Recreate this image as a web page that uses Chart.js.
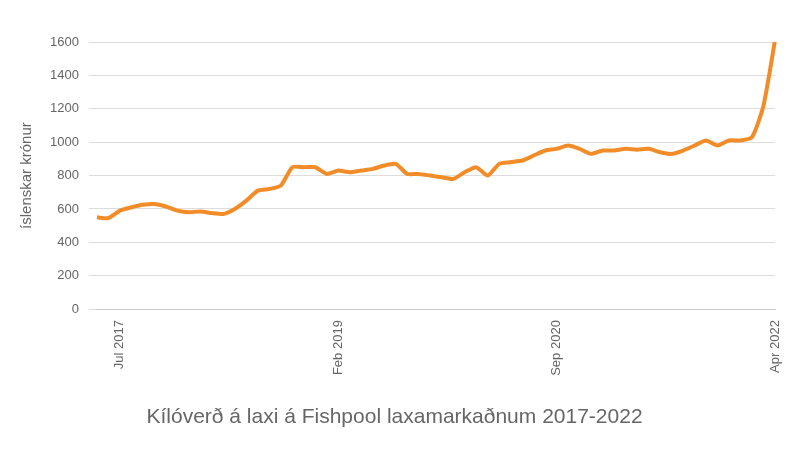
<!DOCTYPE html>
<html>
<head>
<meta charset="utf-8">
<script src="https://cdn.jsdelivr.net/npm/chart.js@4"></script>
<style>
  body { margin: 0; background: #fff; }
  #wrap { width: 800px; height: 450px; }
</style>
</head>
<body>
<div id="wrap"><canvas id="salmonChart"></canvas></div>
<script>
const months = ['May 2017','Jun 2017','Jul 2017','Aug 2017','Sep 2017','Oct 2017','Nov 2017','Dec 2017',
  'Jan 2018','Feb 2018','Mar 2018','Apr 2018','May 2018','Jun 2018','Jul 2018','Aug 2018','Sep 2018','Oct 2018','Nov 2018','Dec 2018',
  'Jan 2019','Feb 2019','Mar 2019','Apr 2019','May 2019','Jun 2019','Jul 2019','Aug 2019','Sep 2019','Oct 2019','Nov 2019','Dec 2019',
  'Jan 2020','Feb 2020','Mar 2020','Apr 2020','May 2020','Jun 2020','Jul 2020','Aug 2020','Sep 2020','Oct 2020','Nov 2020','Dec 2020',
  'Jan 2021','Feb 2021','Mar 2021','Apr 2021','May 2021','Jun 2021','Jul 2021','Aug 2021','Sep 2021','Oct 2021','Nov 2021','Dec 2021',
  'Jan 2022','Feb 2022','Mar 2022','Apr 2022'];
const prices = [550,545,590,610,625,630,615,590,
  580,585,575,570,600,650,710,720,740,850,850,850,
  810,830,820,830,840,860,870,810,810,800,790,780,
  820,850,800,870,880,890,920,950,960,980,960,930,
  950,950,960,955,960,940,930,950,980,1010,980,1010,
  1010,1030,1220,1610];
const shownTicks = ['Jul 2017','Feb 2019','Sep 2020','Apr 2022'];
const yTicks = [0,200,400,600,800,1000,1200,1400,1600];

const ctx = document.getElementById('salmonChart').getContext('2d');
new Chart(ctx, {
  type: 'line',
  data: {
    labels: months,
    datasets: [{
      data: prices,
      borderColor: '#f28c28',
      borderWidth: 4,
      pointRadius: 0,
      tension: 0.2,
      fill: false
    }]
  },
  options: {
    responsive: true,
    maintainAspectRatio: false,
    animation: false,
    layout: { padding: { left: 14, right: 25, top: 42, bottom: 20 } },
    plugins: {
      legend: { display: false },
      title: {
        display: true,
        position: 'bottom',
        text: 'Kílóverð á laxi á Fishpool laxamarkaðnum 2017-2022',
        color: '#666',
        font: { family: 'Liberation Sans', size: 21, weight: 'normal' },
        padding: { top: 26 }
      }
    },
    scales: {
      x: {
        offset: false,
        grid: { display: false },
        border: { color: '#ccc' },
        ticks: {
          autoSkip: false,
          maxRotation: 90, minRotation: 90,
          color: '#666',
          font: { family: 'Liberation Sans', size: 13 },
          callback: function(v) { const l = this.getLabelForValue(v); return shownTicks.includes(l) ? l : ''; }
        }
      },
      y: {
        min: 0, max: 1600,
        afterBuildTicks: ax => { ax.ticks = yTicks.map(v => ({ value: v })); },
        grid: { color: '#ddd' },
        border: { display: false },
        ticks: { color: '#666', padding: 10, font: { family: 'Liberation Sans', size: 13 },
          callback: v => String(v) },
        title: { display: true, text: 'íslenskar krónur', color: '#666', font: { family: 'Liberation Sans', size: 15 } }
      }
    }
  }
});
</script>
</body>
</html>
